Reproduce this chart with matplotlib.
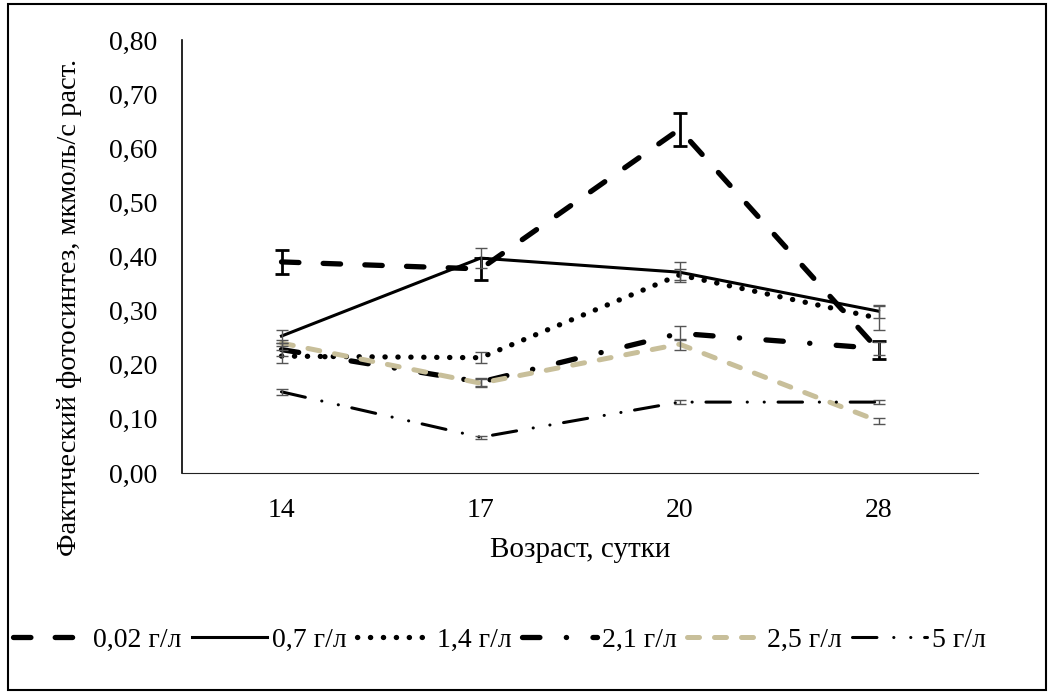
import matplotlib.pyplot as plt
import numpy as np
from matplotlib.patches import Rectangle

plt.rcParams['font.family'] = ['Liberation Serif', 'DejaVu Serif']

days = ['14', '17', '20', '28']
labels = ['0,02 г/л', '0,7 г/л', '1,4 г/л', '2,1 г/л', '2,5 г/л', '5 г/л']

v002 = [0.390, 0.377, 0.635, 0.227]
v07 = [0.253, 0.397, 0.371, 0.299]
v14 = [0.216, 0.213, 0.366, 0.286]
v21 = [0.228, 0.168, 0.258, 0.230]
v25 = [0.240, 0.166, 0.238, 0.096]
v5 = [0.150, 0.066, 0.131, 0.131]

e002 = [0.022, 0.020, 0.031, 0.017]
e07 = [0.012, 0.018, 0.018, 0.012]
e14 = [0.012, 0.010, 0.010, 0.022]
e21 = [0.012, 0.008, 0.013, 0.012]
e25 = [0.006, 0.008, 0.010, 0.005]
e5 = [0.005, 0.003, 0.004, 0.004]

fig = plt.figure(figsize=(10.54, 6.94), dpi=100)
ax = fig.add_axes([182/1054, 1-473/694, (978-182)/1054, (473-40)/694])

x = np.arange(len(days))

styles = [
    (v002, e002, dict(color='black', lw=3.8, linestyle=(0, (3.3, 4.6)), dash_capstyle='round')),
    (v07, e07, dict(color='black', lw=2.2, linestyle='-')),
    (v14, e14, dict(color='black', lw=3.8, linestyle=(0, (0.05, 2.4)), dash_capstyle='round')),
    (v21, e21, dict(color='black', lw=3.8, linestyle=(0, (3.3, 5.0, 0.05, 5.0)), dash_capstyle='round')),
    (v25, e25, dict(color='#C8BF9A', lw=3.6, linestyle=(0, (2.4, 3.0)), dash_capstyle='round')),
    (v5, e5, dict(color='black', lw=2.2, linestyle=(0, (8, 5.5, 0.05, 5.5, 0.05, 4.5)), dash_capstyle='round')),
]

handles = []
for i, (vals, errs, st) in enumerate(styles):
    ln, = ax.plot(x, vals, label=labels[i], **st)
    handles.append(ln)
    if i == 0:
        ax.errorbar(x, vals, yerr=errs, fmt='none', ecolor='black', elinewidth=2, capsize=4.8, capthick=2, zorder=5)
    else:
        ax.errorbar(x, vals, yerr=errs, fmt='none', ecolor='#555555', elinewidth=1, capsize=4.5, capthick=1, zorder=5)

ax.set_xlim(-0.5, 3.5)
ax.set_ylim(0, 0.8)
ax.set_xticks(x)
ax.set_xticklabels(days)
yt = np.arange(0, 0.81, 0.1)
ax.set_yticks(yt)
ax.set_yticklabels([f'{t:.2f}'.replace('.', ',') for t in yt])
ax.tick_params(length=0, labelsize=20)
ax.tick_params(axis='y', pad=18)
ax.tick_params(axis='x', pad=18)
for s in ['top', 'right']:
    ax.spines[s].set_visible(False)
ax.spines['left'].set_color('black')
ax.spines['left'].set_linewidth(1.2)
ax.spines['bottom'].set_color('#222222')

ax.set_xlabel('Возраст, сутки', fontsize=21, labelpad=10)
ax.set_ylabel('Фактический фотосинтез, мкмоль/с раст.', fontsize=20.5, va='center')
ax.yaxis.set_label_coords(-0.141, 0.383)

fig.legend(handles=handles, loc='center', bbox_to_anchor=(0.474, 1-640/694), ncol=6,
           frameon=False, fontsize=20, handlelength=2.7, handletextpad=0.2, columnspacing=0.35)

fig.patches.append(Rectangle((8/1054, 4/694), 1-16/1054, 1-8/694, transform=fig.transFigure,
                             fill=False, edgecolor='black', lw=1.5))

fig.savefig('out.png', dpi=100)
